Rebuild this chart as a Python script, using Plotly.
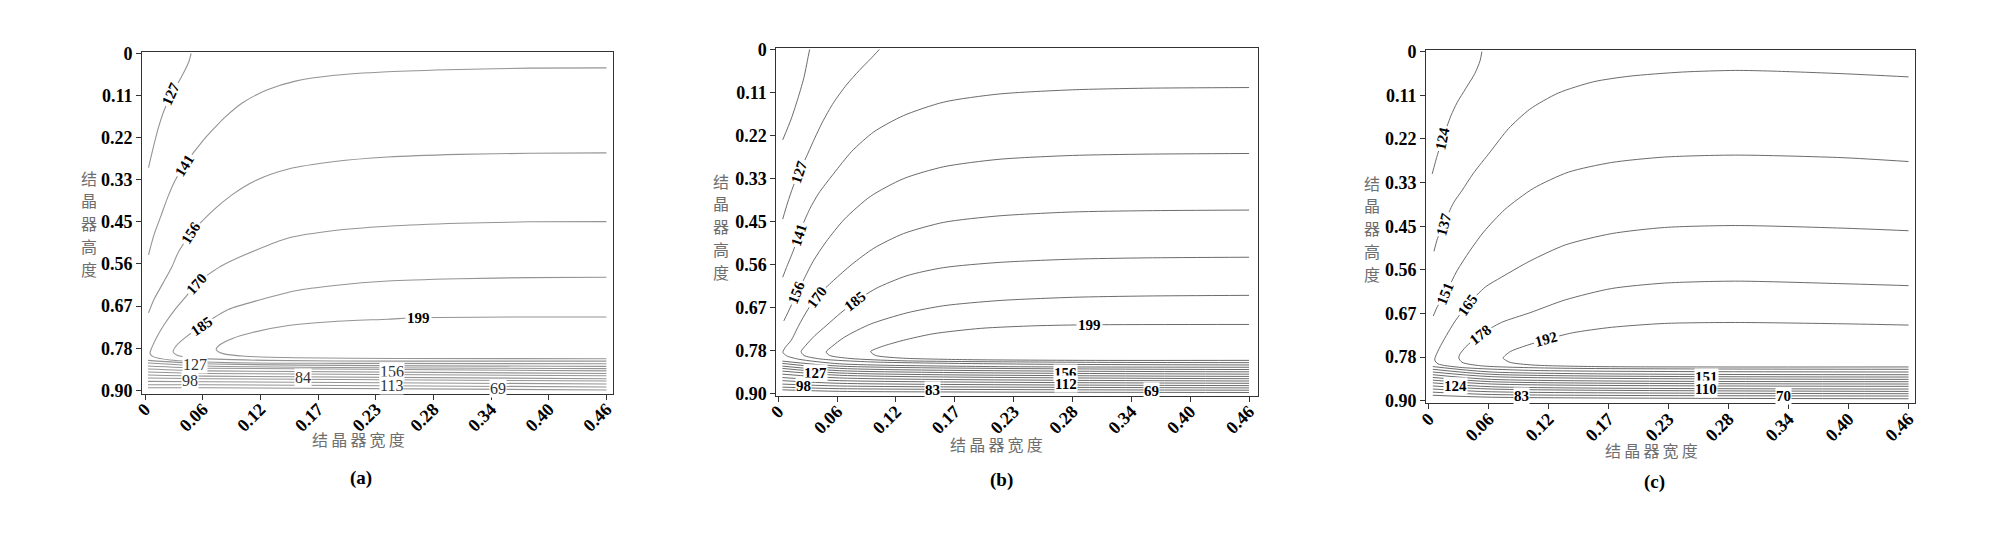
import plotly.graph_objects as go

# ---------------- data (x: width, y: height) ----------------
X_TICK_VALS = [0, 0.0575, 0.115, 0.1725, 0.23, 0.2875, 0.345, 0.4025, 0.46]
X_TICK_TEXT = ["0", "0.06", "0.12", "0.17", "0.23", "0.28", "0.34", "0.40", "0.46"]
Y_TICK_VALS = [0, 0.1125, 0.225, 0.3375, 0.45, 0.5625, 0.675, 0.7875, 0.9]
Y_TICK_TEXT = ["0", "0.11", "0.22", "0.33", "0.45", "0.56", "0.67", "0.78", "0.90"]

# panel (a)
A_127_X = [0.046, 0.0435, 0.0389, 0.0318, 0.0248, 0.0188, 0.0131, 0.0081, 0.0035]
A_127_Y = [0.0, 0.024, 0.050, 0.085, 0.119, 0.154, 0.201, 0.253, 0.305]
A_141_X = [0.46, 0.384, 0.313, 0.242, 0.189, 0.150, 0.122, 0.0973, 0.0796, 0.0655, 0.0584,
           0.0389, 0.0301, 0.0230, 0.0159, 0.0088, 0.0035]
A_141_Y = [0.0388, 0.0397, 0.0431, 0.0492, 0.0587, 0.0742, 0.0975, 0.132, 0.171, 0.210, 0.231,
           0.300, 0.339, 0.382, 0.434, 0.486, 0.538]
A_156_X = [0.46, 0.384, 0.313, 0.242, 0.189, 0.143, 0.111, 0.0867, 0.069, 0.046, 0.0336,
           0.0265, 0.0177, 0.0088, 0.0035]
A_156_Y = [0.266, 0.267, 0.270, 0.277, 0.289, 0.309, 0.339, 0.378, 0.417, 0.481, 0.529,
           0.572, 0.615, 0.658, 0.693]
A_170_X = [0.46, 0.384, 0.313, 0.242, 0.189, 0.143, 0.111, 0.076, 0.0513, 0.0407, 0.030,
           0.0195, 0.0117, 0.0071, 0.005, 0.008, 0.025, 0.08, 0.20, 0.46]
A_170_Y = [0.4496, 0.450, 0.454, 0.462, 0.473, 0.493, 0.525, 0.568, 0.615, 0.650, 0.684,
           0.723, 0.758, 0.784, 0.801, 0.810, 0.819, 0.826, 0.828, 0.829]
A_185_X = [0.46, 0.384, 0.313, 0.242, 0.189, 0.150, 0.115, 0.083, 0.0566, 0.0407, 0.0318,
           0.028, 0.032, 0.05, 0.12, 0.25, 0.46]
A_185_Y = [0.598, 0.599, 0.602, 0.608, 0.620, 0.634, 0.658, 0.684, 0.727, 0.758, 0.779,
           0.797, 0.806, 0.814, 0.820, 0.822, 0.822]
A_199_X = [0.46, 0.384, 0.2725, 0.2424, 0.189, 0.143, 0.108, 0.0867, 0.0743, 0.071, 0.078,
           0.10, 0.15, 0.25, 0.46]
A_199_Y = [0.704, 0.704, 0.706, 0.710, 0.716, 0.727, 0.745, 0.762, 0.779, 0.791, 0.802,
           0.809, 0.813, 0.815, 0.8155]
A_WALL_X = [0.003, 0.06, 0.46]
A_WALL_LEFT = [0.820, 0.827, 0.835, 0.843, 0.851, 0.859, 0.867, 0.876, 0.885, 0.893]
A_WALL_MID = [0.829, 0.835, 0.841, 0.848, 0.855, 0.862, 0.869, 0.877, 0.885, 0.893]
A_WALL_RIGHT = [0.836, 0.842, 0.848, 0.855, 0.861, 0.869, 0.875, 0.883, 0.891, 0.899]
A_TOP_TEXT = ["127", "141", "156", "170", "185", "199"]
A_TOP_X = [0.026, 0.0389, 0.046, 0.0513, 0.0566, 0.2725]
A_TOP_Y = [0.110, 0.300, 0.481, 0.615, 0.727, 0.706]
A_TOP_ANGLE = [-65, -58, -58, -48, -35, 0]
A_LOW_TEXT = ["127", "98", "84", "156", "113", "69"]
A_LOW_X = [0.0494, 0.0445, 0.158, 0.246, 0.246, 0.352]
A_LOW_Y = [0.830, 0.873, 0.866, 0.850, 0.887, 0.896]

# panel (b)
B_113_X = [0.0306, 0.0284, 0.0252, 0.0198, 0.0126, 0.0043]
B_113_Y = [0.0, 0.0296, 0.0718, 0.1225, 0.1817, 0.2366]
B_127_X = [0.0988, 0.0899, 0.0791, 0.0665, 0.0539, 0.0431, 0.0341, 0.0270, 0.0208, 0.0144,
           0.0090, 0.0043]
B_127_Y = [0.0, 0.0254, 0.0549, 0.0930, 0.1394, 0.1901, 0.2408, 0.2831, 0.3169, 0.3591,
           0.4014, 0.4436]
B_141_X = [0.46, 0.3594, 0.2875, 0.2156, 0.1617, 0.1222, 0.0934, 0.0719, 0.0539, 0.0395,
           0.0305, 0.0223, 0.0144, 0.0079, 0.0043]
B_141_Y = [0.0997, 0.1014, 0.1056, 0.1166, 0.1377, 0.1732, 0.2155, 0.2662, 0.3253, 0.3760,
           0.4183, 0.4690, 0.5281, 0.5704, 0.5957]
B_156_X = [0.46, 0.3594, 0.2875, 0.2156, 0.1617, 0.1222, 0.0899, 0.0647, 0.0467, 0.0341,
           0.0244, 0.018, 0.0115, 0.0054]
B_156_Y = [0.2721, 0.2738, 0.2772, 0.2873, 0.3067, 0.338, 0.3845, 0.4436, 0.5028, 0.5535,
           0.6042, 0.638, 0.676, 0.7098]
B_170_X = [0.46, 0.3594, 0.2875, 0.2156, 0.1617, 0.1222, 0.0934, 0.0719, 0.0539, 0.0377,
           0.0288, 0.0198, 0.0126, 0.0065, 0.0045, 0.008, 0.02, 0.06, 0.20, 0.46]
B_170_Y = [0.420, 0.4217, 0.425, 0.4352, 0.4521, 0.4817, 0.5197, 0.5619, 0.6042, 0.6464,
           0.6802, 0.7225, 0.7605, 0.780, 0.792, 0.801, 0.810, 0.822, 0.829, 0.831]
B_185_X = [0.46, 0.3594, 0.2875, 0.2156, 0.1617, 0.1258, 0.0952, 0.0755, 0.0611, 0.0467,
           0.0359, 0.027, 0.0223, 0.025, 0.04, 0.09, 0.25, 0.46]
B_185_Y = [0.5433, 0.545, 0.5484, 0.5569, 0.5704, 0.5915, 0.6253, 0.6591, 0.6887, 0.7225,
           0.7478, 0.7732, 0.790, 0.800, 0.809, 0.817, 0.823, 0.825]
B_MID_X = [0.46, 0.3594, 0.2875, 0.2156, 0.1617, 0.1258, 0.0899, 0.0647, 0.0521, 0.0467,
           0.05, 0.07, 0.12, 0.30, 0.46]
B_MID_Y = [0.643, 0.6447, 0.6481, 0.6566, 0.6701, 0.6887, 0.7183, 0.7521, 0.7774, 0.791,
           0.800, 0.808, 0.814, 0.818, 0.819]
B_199_X = [0.46, 0.3037, 0.2516, 0.1977, 0.151, 0.1222, 0.1006, 0.0902, 0.095, 0.12, 0.18,
           0.30, 0.46]
B_199_Y = [0.7191, 0.720, 0.7225, 0.7293, 0.7436, 0.7605, 0.7774, 0.790, 0.800, 0.807, 0.811,
           0.813, 0.813]
B_WALL_X = [0.004, 0.06, 0.46]
B_WALL_LEFT = [0.815, 0.821, 0.828, 0.834, 0.841, 0.849, 0.858, 0.866, 0.875, 0.883, 0.890]
B_WALL_MID = [0.828, 0.834, 0.840, 0.846, 0.852, 0.859, 0.866, 0.873, 0.880, 0.887, 0.894]
B_WALL_RIGHT = [0.837, 0.843, 0.849, 0.855, 0.861, 0.867, 0.873, 0.879, 0.885, 0.891, 0.897]
B_TOP_TEXT = ["127", "141", "156", "170", "185", "199"]
B_TOP_X = [0.0205, 0.0203, 0.018, 0.0377, 0.0755, 0.3037]
B_TOP_Y = [0.321, 0.486, 0.635, 0.646, 0.659, 0.720]
B_TOP_ANGLE = [-72, -72, -68, -54, -38, 0]
B_LOW_TEXT = ["127", "98", "83", "156", "112", "69"]
B_LOW_X = [0.0362, 0.0248, 0.151, 0.281, 0.281, 0.365]
B_LOW_Y = [0.847, 0.881, 0.891, 0.846, 0.875, 0.893]

# panel (c)
C_124_X = [0.051, 0.0493, 0.0442, 0.0357, 0.0272, 0.0214, 0.0136, 0.0085, 0.0051, 0.0034]
C_124_Y = [0.0, 0.0233, 0.0567, 0.0942, 0.1317, 0.165, 0.2233, 0.265, 0.2983, 0.315]
C_137_X = [0.46, 0.3964, 0.3283, 0.2943, 0.2433, 0.1922, 0.1582, 0.1242, 0.097, 0.0766,
           0.0595, 0.0425, 0.0323, 0.0238, 0.0146, 0.0085, 0.0051]
C_137_Y = [0.065, 0.0567, 0.05, 0.0483, 0.0525, 0.0633, 0.0775, 0.1067, 0.1483, 0.1983,
           0.2567, 0.315, 0.3567, 0.39, 0.4442, 0.4817, 0.515]
C_151_X = [0.46, 0.3964, 0.2943, 0.2263, 0.1752, 0.1338, 0.1004, 0.0731, 0.0527, 0.0391,
           0.0272, 0.0163, 0.0085, 0.0044]
C_151_Y = [0.2833, 0.2733, 0.2667, 0.2717, 0.2858, 0.3108, 0.3525, 0.4067, 0.465, 0.515,
           0.565, 0.6233, 0.6567, 0.6817]
C_165_X = [0.46, 0.3964, 0.2943, 0.2263, 0.1752, 0.131, 0.097, 0.0697, 0.0544, 0.0374,
           0.0255, 0.017, 0.0102, 0.0058, 0.009, 0.03, 0.10, 0.46]
C_165_Y = [0.4617, 0.455, 0.4483, 0.4533, 0.4692, 0.4983, 0.54, 0.5817, 0.6067, 0.6525,
           0.6942, 0.7317, 0.765, 0.795, 0.805, 0.814, 0.822, 0.826]
C_178_X = [0.46, 0.3964, 0.2943, 0.2263, 0.1752, 0.131, 0.097, 0.0697, 0.0493, 0.0357,
           0.0296, 0.0289, 0.032, 0.05, 0.12, 0.46]
C_178_Y = [0.6033, 0.5983, 0.5917, 0.5967, 0.6108, 0.64, 0.6733, 0.6983, 0.73, 0.7608,
           0.7817, 0.79, 0.801, 0.810, 0.816, 0.819]
C_192_X = [0.46, 0.3964, 0.2943, 0.2263, 0.1752, 0.1378, 0.1133, 0.0902, 0.0783, 0.0714,
           0.078, 0.10, 0.16, 0.46]
C_192_Y = [0.705, 0.7017, 0.6983, 0.7008, 0.7108, 0.725, 0.7417, 0.7608, 0.7733, 0.79,
           0.801, 0.808, 0.812, 0.813]
C_WALL_X = [0.004, 0.06, 0.46]
C_WALL_LEFT = [0.812, 0.819, 0.826, 0.833, 0.840, 0.847, 0.854, 0.862, 0.870, 0.878, 0.886]
C_WALL_MID = [0.826, 0.832, 0.838, 0.845, 0.851, 0.857, 0.864, 0.870, 0.877, 0.884, 0.891]
C_WALL_RIGHT = [0.833, 0.839, 0.845, 0.851, 0.857, 0.863, 0.870, 0.876, 0.882, 0.888, 0.895]
C_TOP_TEXT = ["124", "137", "151", "165", "178", "192"]
C_TOP_X = [0.0136, 0.0146, 0.0163, 0.0374, 0.0493, 0.1133]
C_TOP_Y = [0.2233, 0.4442, 0.6233, 0.6525, 0.730, 0.7417]
C_TOP_ANGLE = [-78, -75, -68, -55, -38, -15]
C_LOW_TEXT = ["124", "83", "151", "110", "70"]
C_LOW_X = [0.0254, 0.089, 0.266, 0.266, 0.340]
C_LOW_Y = [0.861, 0.887, 0.839, 0.871, 0.888]

Y_TITLE_CHARS = ["结", "晶", "器", "高", "度"]
X_TITLE = "结\u2009晶\u2009器\u2009宽\u2009度"

# ---------------- figure ----------------
W, H = 2000, 559
SERIF = "Liberation Serif, Times New Roman, serif"
CJK = "Noto Sans CJK SC"

panels = [
    dict(name="a", ax="", curves=[(A_127_X, A_127_Y), (A_141_X, A_141_Y), (A_156_X, A_156_Y),
                                   (A_170_X, A_170_Y), (A_185_X, A_185_Y), (A_199_X, A_199_Y)],
         wall=(A_WALL_X, A_WALL_LEFT, A_WALL_MID, A_WALL_RIGHT),
         top=(A_TOP_TEXT, A_TOP_X, A_TOP_Y, A_TOP_ANGLE), low=(A_LOW_TEXT, A_LOW_X, A_LOW_Y),
         box=(133.9, 607.5, 44.3, 396.7), xr=[-0.0029, 0.4664], yr=[0.9088, -0.0036],
         color="#949494", width=1.1, low_bold=False,
         ylab=(80, 221), xlab=(352, 444), sub=(354, 484)),
    dict(name="b", ax="2", curves=[(B_113_X, B_113_Y), (B_127_X, B_127_Y), (B_141_X, B_141_Y),
                                    (B_156_X, B_156_Y), (B_170_X, B_170_Y), (B_185_X, B_185_Y),
                                    (B_MID_X, B_MID_Y), (B_199_X, B_199_Y)],
         wall=(B_WALL_X, B_WALL_LEFT, B_WALL_MID, B_WALL_RIGHT),
         top=(B_TOP_TEXT, B_TOP_X, B_TOP_Y, B_TOP_ANGLE), low=(B_LOW_TEXT, B_LOW_X, B_LOW_Y),
         box=(772.0, 1256.8, 40.7, 399.0), xr=[-0.0019, 0.469], yr=[0.9058, -0.0025],
         color="#5a5a5a", width=0.9, low_bold=True,
         ylab=(716, 224), xlab=(993, 449), sub=(998, 486)),
    dict(name="c", ax="3", curves=[(C_124_X, C_124_Y), (C_137_X, C_137_Y), (C_151_X, C_151_Y),
                                    (C_165_X, C_165_Y), (C_178_X, C_178_Y), (C_192_X, C_192_Y)],
         wall=(C_WALL_X, C_WALL_LEFT, C_WALL_MID, C_WALL_RIGHT),
         top=(C_TOP_TEXT, C_TOP_X, C_TOP_Y, C_TOP_ANGLE), low=(C_LOW_TEXT, C_LOW_X, C_LOW_Y),
         box=(1425.7, 1917.5, 42.7, 406.7), xr=[-0.0024, 0.4662], yr=[0.9068, -0.0033],
         color="#5a5a5a", width=0.9, low_bold=True,
         ylab=(1371, 226), xlab=(1652, 455), sub=(1655, 488)),
]

fig = go.Figure()
annotations = []
layout = {}


def paper_text(px, py, text, font):
    # centred text at a pixel position of the page
    return dict(x=px / W, y=1 - py / H, xref="paper", yref="paper", text=text,
                showarrow=False, xanchor="center", yanchor="middle", font=font)


for p in panels:
    xa, ya = "x" + p["ax"], "y" + p["ax"]
    line = dict(color=p["color"], width=p["width"], shape="spline", smoothing=0.7)

    for cx, cy in p["curves"]:
        fig.add_trace(go.Scatter(x=cx, y=cy, mode="lines", line=line, xaxis=xa, yaxis=ya,
                                 showlegend=False, hoverinfo="skip"))
    wx, wl, wm, wr = p["wall"]
    for yl, ym, yr in zip(wl, wm, wr):
        fig.add_trace(go.Scatter(x=wx, y=[yl, ym, yr], mode="lines", line=line, xaxis=xa,
                                 yaxis=ya, showlegend=False, hoverinfo="skip"))

    # contour labels
    for t, lx, ly, ang in zip(*p["top"]):
        annotations.append(dict(x=lx, y=ly, xref=xa, yref=ya, text=t, showarrow=False,
                                xanchor="center", yanchor="middle",
                                textangle=ang, bgcolor="white", borderpad=1,
                                font=dict(family=SERIF, size=15, color="black", weight="bold")))
    for t, lx, ly in zip(*p["low"]):
        annotations.append(dict(x=lx, y=ly, xref=xa, yref=ya, text=t, showarrow=False,
                                xanchor="center", yanchor="middle",
                                bgcolor="white", borderpad=0,
                                font=dict(family=SERIF, size=15 if p["low_bold"] else 16,
                                          color="black" if p["low_bold"] else "#333333",
                                          weight="bold" if p["low_bold"] else "normal")))

    left, right, top, bottom = p["box"]
    axis_common = dict(showline=True, linecolor="#333333", linewidth=1, mirror=True,
                       showgrid=False, zeroline=False, ticks="outside", ticklen=5,
                       tickcolor="#333333")
    layout["xaxis" + p["ax"]] = dict(
        domain=[left / W, right / W], range=p["xr"], anchor=ya,
        tickvals=X_TICK_VALS, ticktext=X_TICK_TEXT, tickangle=-45, ticklabelstandoff=-8,
        tickfont=dict(family=SERIF, size=18, color="black", weight="bold"), **axis_common)
    layout["yaxis" + p["ax"]] = dict(
        domain=[1 - bottom / H, 1 - top / H], range=p["yr"], anchor=xa,
        tickvals=Y_TICK_VALS, ticktext=Y_TICK_TEXT,
        tickfont=dict(family=SERIF, size=18, color="black", weight="bold"), **axis_common)

    # vertical y title, one character per row
    step = 23.5
    y0 = p["ylab"][1] - step * (len(Y_TITLE_CHARS) - 1) / 2
    cjk_font = dict(family=CJK, size=16, color="#6e6e6e")
    for k, ch in enumerate(Y_TITLE_CHARS):
        annotations.append(paper_text(p["ylab"][0], y0 + k * step, ch, cjk_font))
    annotations.append(paper_text(p["xlab"][0], p["xlab"][1], X_TITLE, cjk_font))
    annotations.append(paper_text(p["sub"][0], p["sub"][1], "(" + p["name"] + ")",
                                  dict(family=SERIF, size=19, color="black", weight="bold")))

fig.update_layout(
    width=W, height=H,
    margin=dict(l=0, r=0, t=0, b=0),
    paper_bgcolor="white", plot_bgcolor="white",
    annotations=annotations,
    **layout
)

fig.write_html("out.html", config={"displayModeBar": False},
               post_script="document.body.style.margin='0';")
